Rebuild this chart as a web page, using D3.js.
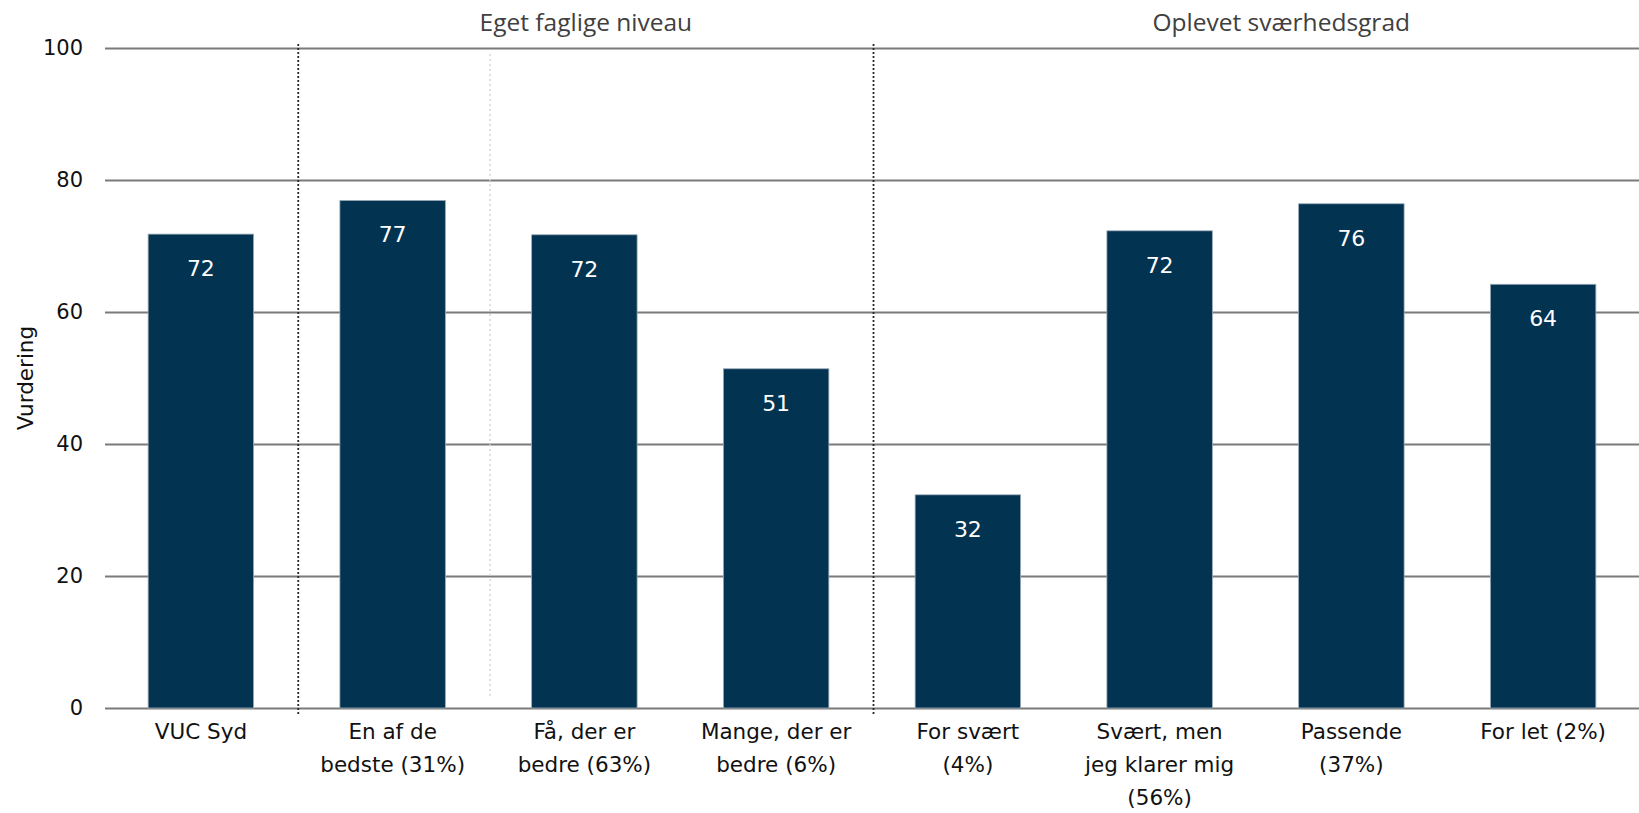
<!DOCTYPE html>
<html>
<head>
<meta charset="utf-8">
<script src="https://cdn.jsdelivr.net/npm/d3@7"></script>
<style>
  body { margin: 0; background: #fff; }
  .tickText { font-family: "DejaVu Sans", Verdana, sans-serif; font-size: 21px; fill: #111; }
  .catText { font-family: "DejaVu Sans", Verdana, sans-serif; font-size: 21.5px; fill: #111; }
  .valText { font-family: "DejaVu Sans", Verdana, sans-serif; font-size: 22px; fill: #fff; }
  .groupText { font-family: "Open Sans", "Liberation Sans", sans-serif; font-size: 24.5px; fill: #404040; }
</style>
</head>
<body>
<div id="chart"></div>
<script>
// Data
var categories = [
  "VUC Syd",
  "En af de\nbedste (31%)",
  "Få, der er\nbedre (63%)",
  "Mange, der er\nbedre (6%)",
  "For svært\n(4%)",
  "Svært, men\njeg klarer mig\n(56%)",
  "Passende\n(37%)",
  "For let (2%)"
];
var values = [71.8, 76.9, 71.7, 51.4, 32.3, 72.3, 76.4, 64.2];
var yTicks = [0, 20, 40, 60, 80, 100];
var groupNames = ["Eget faglige niveau", "Oplevet sværhedsgrad"];
var groupFirst = [1, 4];
var groupLast = [3, 7];

var width = 1639;
var height = 813;
var plotLeft = 105;
var plotTop = 48;
var plotBottom = 708;

var svg = d3
  .select("#chart")
  .append("svg")
  .attr("width", width)
  .attr("height", height);

var xScale = d3
  .scaleBand()
  .domain(d3.range(categories.length))
  .range([plotLeft, width])
  .paddingInner(0.45)
  .paddingOuter(0.225);

var yScale = d3
  .scaleLinear()
  .domain([0, 100])
  .range([plotBottom, plotTop]);

// gridlines + y tick labels
var yAxis = d3
  .axisLeft(yScale)
  .tickValues(yTicks)
  .tickSize(-(width - plotLeft))
  .tickPadding(22);

var yG = svg
  .append("g")
  .attr("class", "yAxis")
  .attr("transform", "translate(" + plotLeft + ",0)")
  .call(yAxis);
yG.attr("font-family", null).attr("font-size", null);
yG.select(".domain").remove();
yG.selectAll("line").attr("stroke", "#7a7a7a").attr("stroke-width", 2);
yG.selectAll("text").attr("class", "tickText").attr("fill", null);

// y title
svg
  .append("text")
  .attr("class", "catText")
  .attr("transform", "translate(33," + (plotTop + plotBottom) / 2 + ")rotate(-90)")
  .attr("text-anchor", "middle")
  .text("Vurdering");

// boundary between two bands, a hair right like the source
function boundary(i) {
  return xScale(i) - (xScale.step() - xScale.bandwidth()) / 2 + 1.5;
}

// light dotted divider inside first group
svg
  .append("line")
  .attr("x1", boundary(2))
  .attr("x2", boundary(2))
  .attr("y1", 54)
  .attr("y2", 698)
  .attr("stroke", "#d0d0d0")
  .attr("stroke-width", 1.3)
  .attr("stroke-dasharray", "2,3");

// dark dotted group dividers
groupFirst.forEach(function(g) {
  svg
    .append("line")
    .attr("x1", boundary(g))
    .attr("x2", boundary(g))
    .attr("y1", 44)
    .attr("y2", 715)
    .attr("stroke", "#2a2a2a")
    .attr("stroke-width", 1.8)
    .attr("stroke-dasharray", "2,2");
});

// group headers (the last group ran past the cropped edge in the source)
groupNames.forEach(function(name, i) {
  var x0 = boundary(groupFirst[i]);
  var x1 = groupLast[i] === categories.length - 1 ? width + 50 : boundary(groupLast[i] + 1);
  svg
    .append("text")
    .attr("class", "groupText")
    .attr("x", (x0 + x1) / 2)
    .attr("y", 31)
    .attr("text-anchor", "middle")
    .text(name);
});

// bars
svg
  .selectAll(".bar")
  .data(values)
  .enter()
  .append("rect")
  .attr("class", "bar")
  .attr("x", function(d, i) { return xScale(i); })
  .attr("y", function(d) { return yScale(d); })
  .attr("width", xScale.bandwidth())
  .attr("height", function(d) { return yScale(0) - yScale(d); })
  .attr("fill", "#023351")
  .attr("stroke", "#9aaab6")
  .attr("stroke-width", 0.8);

// value labels
svg
  .selectAll(".valText")
  .data(values)
  .enter()
  .append("text")
  .attr("class", "valText")
  .attr("x", function(d, i) { return xScale(i) + xScale.bandwidth() / 2; })
  .attr("y", function(d) { return yScale(d) + 42; })
  .attr("text-anchor", "middle")
  .text(function(d) { return Math.round(d); });

// category labels
var xAxis = d3.axisBottom(xScale).tickSize(0).tickFormat(function(i) { return categories[i]; });
var xG = svg
  .append("g")
  .attr("class", "xAxis")
  .attr("transform", "translate(0," + plotBottom + ")")
  .call(xAxis);
xG.attr("font-family", null).attr("font-size", null);
xG.select(".domain").remove();
xG.selectAll("text").each(function(i) {
  var t = d3.select(this);
  var lines = categories[i].split("\n");
  t.text(null)
    .attr("class", "catText")
    .attr("fill", null)
    .attr("dy", null)
    .attr("y", null);
  lines.forEach(function(line, k) {
    t.append("tspan").attr("x", 0).attr("y", 31 + k * 33).text(line);
  });
});
</script>
</body>
</html>
